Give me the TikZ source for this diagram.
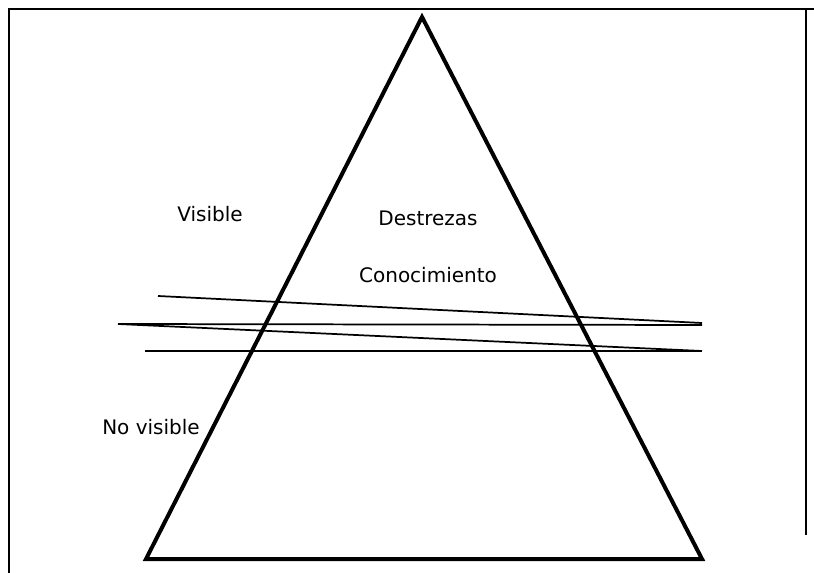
\documentclass[tikz,border=0pt]{standalone}
\usepackage{fontspec}
\setmainfont{DejaVu Sans}
\usepackage{tikz}
\usetikzlibrary{positioning}

\begin{document}
\begin{tikzpicture}[x=0.75pt,y=-0.75pt,
  lbl/.style={anchor=base,inner sep=0pt,font=\fontsize{15}{18}\selectfont},
  cut/.style={line width=1.3pt}]
\useasboundingbox(0,0)rectangle(814,573);
% frame
\draw[line width=1.4pt](9,573)--(9,9)--(814,9);
\draw[line width=1.1pt](806,9)--(806,535);
% pyramid
\coordinate(apex)at(422,17);
\coordinate(bl)at(146,559);
\coordinate(br)at(702,559);
\draw[line width=3pt,line join=miter](apex)--(br)--(bl)--cycle;
% cut lines
\coordinate(a1)at(158,296);
\coordinate(a2)at(118,324);
\coordinate(a3)at(145,351);
\coordinate(b1)at(702,323);
\coordinate(b2)at(702,325);
\coordinate(b3)at(702,351);
\draw[cut](a1)--(b1);
\draw[cut](a2)--(b2);
\draw[cut](a2)--(b3);
\draw[cut](a3)--(b3);
% labels
\node[lbl](vis)at(210,222){Visible};
\node[lbl](des)at(428,226){Destrezas};
\node[lbl](con)at(428,283){Conocimiento};
\node[lbl](novis)at(151,435){No visible};
\end{tikzpicture}
\end{document}
